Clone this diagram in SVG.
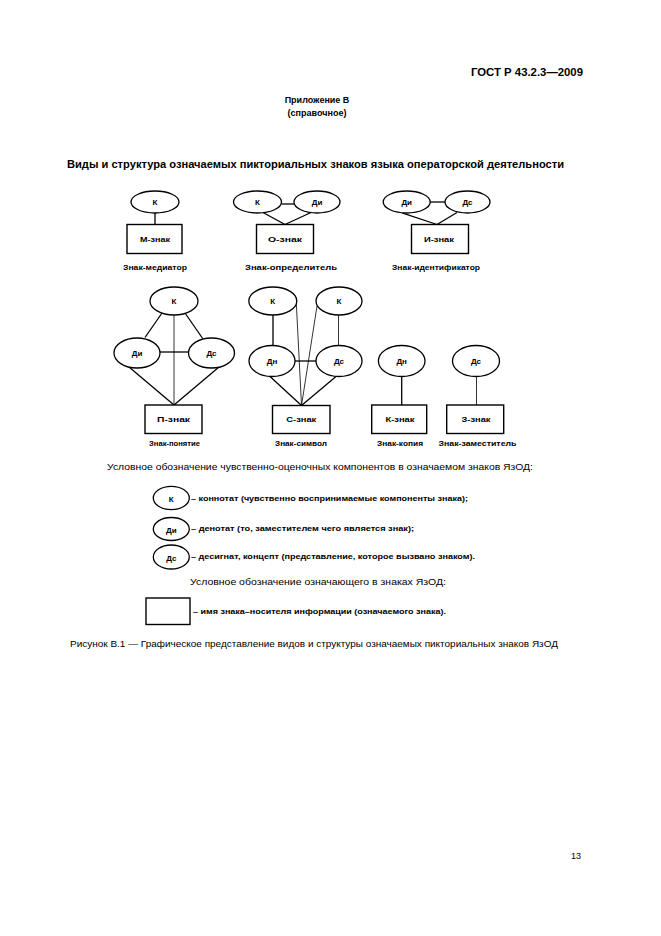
<svg xmlns="http://www.w3.org/2000/svg" width="661" height="936" viewBox="0 0 661 936">
<style>
.bg{fill:#fff}
.e{fill:#fff;stroke:#000;stroke-width:1.3}
.r{fill:#fff;stroke:#000;stroke-width:1.4}
.l{stroke:#000;stroke-width:1.3;fill:none}
.t{stroke:#000;stroke-width:0.8;fill:none}
.n{font-family:"Liberation Sans",Arial,sans-serif;font-weight:bold;font-size:8px;text-anchor:middle;fill:#000}
.c{font-family:"Liberation Sans",Arial,sans-serif;font-weight:bold;font-size:8px;text-anchor:middle;fill:#000}
.lg{font-family:"Liberation Sans",Arial,sans-serif;font-weight:bold;font-size:8px;fill:#000}
.reg{font-family:"Liberation Sans",Arial,sans-serif;font-size:9px;fill:#000}
.hb{font-family:"Liberation Sans",Arial,sans-serif;font-weight:bold;fill:#000}
</style>
<rect class="bg" x="0" y="0" width="661" height="936"/>
<g id="header">
<text class="hb" x="583" y="76" font-size="11.5" text-anchor="end" textLength="112" lengthAdjust="spacingAndGlyphs">ГОСТ Р 43.2.3—2009</text>
<text class="hb" x="317" y="103" font-size="9" text-anchor="middle">Приложение В</text>
<text class="hb" x="317" y="116" font-size="9" text-anchor="middle">(справочное)</text>
<text class="hb" x="67" y="168" font-size="11" textLength="497" lengthAdjust="spacingAndGlyphs">Виды и структура означаемых пикториальных знаков языка операторской деятельности</text>
</g>
<g id="connectors">
<line class="l" x1="155" y1="213" x2="155" y2="224.5"/>
<line class="l" x1="281.5" y1="204" x2="294" y2="204"/>
<line class="l" x1="263" y1="212.5" x2="285" y2="224.5"/>
<line class="l" x1="311" y1="212.5" x2="285" y2="224.5"/>
<line class="l" x1="430" y1="202" x2="445" y2="202"/>
<line class="l" x1="402" y1="212.8" x2="437" y2="224.5"/>
<line class="l" x1="457" y1="212.5" x2="437" y2="224.5"/>
<line class="l" x1="162" y1="313" x2="145" y2="337.5"/>
<line class="l" x1="185" y1="313" x2="203" y2="339"/>
<line class="t" x1="174" y1="315" x2="174" y2="405"/>
<line class="l" x1="160" y1="352" x2="188.5" y2="352"/>
<line class="l" x1="129" y1="367" x2="174" y2="405"/>
<line class="l" x1="219" y1="367" x2="174" y2="405"/>
<line class="l" x1="273" y1="315" x2="273" y2="345.5"/>
<line class="t" x1="338.5" y1="315" x2="338.5" y2="345.5"/>
<line class="l" x1="295" y1="361" x2="316" y2="361"/>
<line class="t" x1="296" y1="297" x2="301.5" y2="405.5"/>
<line class="t" x1="317" y1="306" x2="301.5" y2="405.5"/>
<line class="l" x1="270" y1="376.5" x2="301.5" y2="405.5"/>
<line class="l" x1="336" y1="376.5" x2="301.5" y2="405.5"/>
<line class="l" x1="401.7" y1="376.5" x2="401.7" y2="405"/>
<line class="t" x1="476.5" y1="376.5" x2="476.5" y2="405"/>
</g>
<g id="m-znak">
<ellipse class="e" cx="155" cy="202" rx="24" ry="11"/>
<text class="n" x="155" y="205">К</text>
<rect class="r" x="127" y="224.5" width="55" height="29"/>
<text class="n" x="155" y="242" textLength="30" lengthAdjust="spacingAndGlyphs">М-знак</text>
<text class="c" x="155" y="270" textLength="64" lengthAdjust="spacingAndGlyphs">Знак-медиатор</text>
</g>
<g id="o-znak">
<ellipse class="e" cx="257.5" cy="202" rx="24" ry="11"/>
<text class="n" x="257.5" y="205">К</text>
<ellipse class="e" cx="317" cy="202" rx="23" ry="11"/>
<text class="n" x="317" y="205">Ди</text>
<rect class="r" x="256.5" y="224.5" width="57" height="29"/>
<text class="n" x="285" y="242" textLength="34" lengthAdjust="spacingAndGlyphs">О-знак</text>
<text class="c" x="291" y="270" textLength="92" lengthAdjust="spacingAndGlyphs">Знак-определитель</text>
</g>
<g id="i-znak">
<ellipse class="e" cx="406.7" cy="202" rx="23.5" ry="11"/>
<text class="n" x="406.7" y="205">Ди</text>
<ellipse class="e" cx="467.5" cy="202" rx="22.5" ry="11"/>
<text class="n" x="467.5" y="205">Дс</text>
<rect class="r" x="411.5" y="224.5" width="57" height="29"/>
<text class="n" x="439" y="242" textLength="30" lengthAdjust="spacingAndGlyphs">И-знак</text>
<text class="c" x="436" y="270" textLength="88" lengthAdjust="spacingAndGlyphs">Знак-идентификатор</text>
</g>
<g id="p-znak">
<ellipse class="e" cx="174" cy="301" rx="24" ry="14"/>
<text class="n" x="174" y="304">К</text>
<ellipse class="e" cx="137" cy="353" rx="23" ry="15"/>
<text class="n" x="137" y="356">Ди</text>
<ellipse class="e" cx="211.5" cy="353" rx="23" ry="15"/>
<text class="n" x="211.5" y="356">Дс</text>
<rect class="r" x="145" y="405" width="57" height="28.5"/>
<text class="n" x="173.5" y="422" textLength="33" lengthAdjust="spacingAndGlyphs">П-знак</text>
<text class="c" x="174.5" y="446" textLength="51" lengthAdjust="spacingAndGlyphs">Знак-понятие</text>
</g>
<g id="s-znak">
<ellipse class="e" cx="272.8" cy="301" rx="24" ry="14"/>
<text class="n" x="272.8" y="304">К</text>
<ellipse class="e" cx="339" cy="301" rx="23" ry="14"/>
<text class="n" x="339" y="304">К</text>
<ellipse class="e" cx="272" cy="361" rx="23" ry="15.5"/>
<text class="n" x="272" y="364">Дн</text>
<ellipse class="e" cx="339" cy="361" rx="23" ry="15.5"/>
<text class="n" x="339" y="364">Дс</text>
<rect class="r" x="272.5" y="405.5" width="57.5" height="28"/>
<text class="n" x="301.3" y="422" textLength="30" lengthAdjust="spacingAndGlyphs">С-знак</text>
<text class="c" x="301" y="446" textLength="52" lengthAdjust="spacingAndGlyphs">Знак-символ</text>
</g>
<g id="k-znak">
<ellipse class="e" cx="401.7" cy="361" rx="23.3" ry="15.5"/>
<text class="n" x="401.7" y="364">Дн</text>
<rect class="r" x="371.7" y="405" width="55" height="28.5"/>
<text class="n" x="400" y="422" textLength="29" lengthAdjust="spacingAndGlyphs">К-знак</text>
<text class="c" x="400" y="446" textLength="46" lengthAdjust="spacingAndGlyphs">Знак-копия</text>
</g>
<g id="z-znak">
<ellipse class="e" cx="476" cy="361" rx="23.5" ry="15.5"/>
<text class="n" x="476" y="364">Дс</text>
<rect class="r" x="446.7" y="405" width="57" height="28.5"/>
<text class="n" x="476" y="422" textLength="29" lengthAdjust="spacingAndGlyphs">З-знак</text>
<text class="c" x="477.5" y="446" textLength="78" lengthAdjust="spacingAndGlyphs">Знак-заместитель</text>
</g>
<g id="legend">
<text class="reg" x="107" y="470" textLength="426" lengthAdjust="spacingAndGlyphs">Условное обозначение чувственно-оценочных компонентов в означаемом знаков ЯзОД:</text>
<ellipse class="e" cx="171.3" cy="498" rx="18" ry="11.7"/>
<text class="n" x="171.3" y="501.5" font-size="9">К</text>
<text class="lg" x="191" y="501" textLength="277" lengthAdjust="spacingAndGlyphs">– коннотат (чувственно воспринимаемые компоненты знака);</text>
<ellipse class="e" cx="171.3" cy="529" rx="18" ry="11.5"/>
<text class="n" x="171.3" y="532.5" font-size="9">Ди</text>
<text class="lg" x="191" y="531" textLength="223" lengthAdjust="spacingAndGlyphs">– денотат (то, заместителем чего является знак);</text>
<ellipse class="e" cx="171.3" cy="557" rx="18" ry="12"/>
<text class="n" x="171.3" y="560.5" font-size="9">Дс</text>
<text class="lg" x="191" y="559" textLength="284" lengthAdjust="spacingAndGlyphs">– десигнат, концепт (представление, которое вызвано знаком).</text>
<text class="reg" x="190" y="585" textLength="256" lengthAdjust="spacingAndGlyphs">Условное обозначение означающего в знаках ЯзОД:</text>
<rect class="r" x="146" y="598" width="44" height="26.5"/>
<text class="lg" x="193" y="614" textLength="253" lengthAdjust="spacingAndGlyphs">– имя знака–носителя информации (означаемого знака).</text>
</g>
<g id="caption">
<text class="reg" x="70" y="647" textLength="488" lengthAdjust="spacingAndGlyphs">Рисунок В.1 — Графическое представление видов и структуры означаемых пикториальных знаков ЯзОД</text>
<text class="reg" x="581" y="859" text-anchor="end" font-size="10">13</text>
</g>
</svg>
